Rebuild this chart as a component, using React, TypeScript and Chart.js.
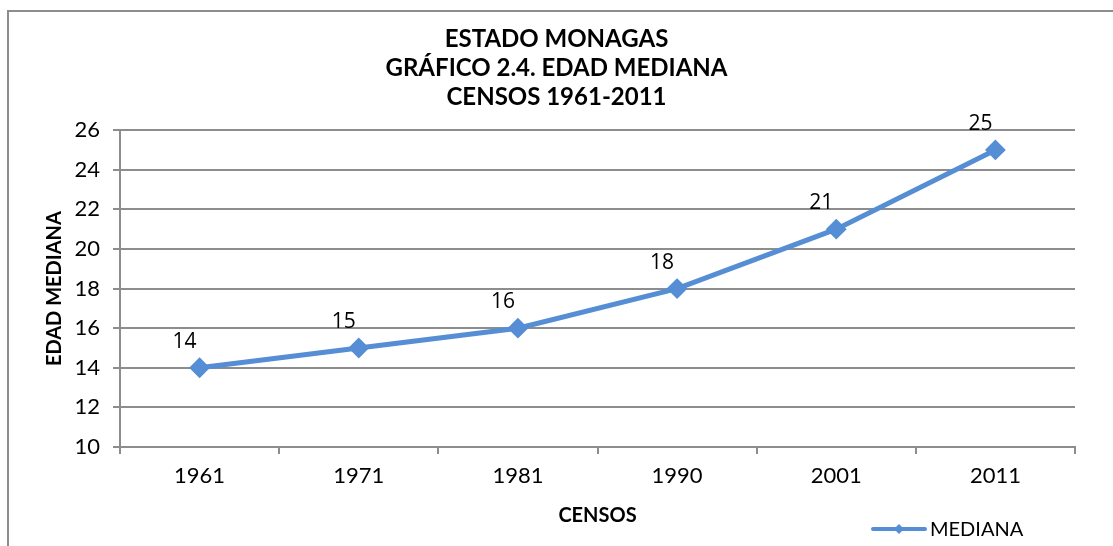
import React, { useEffect, useRef } from "react";
import { Chart, registerables } from "chart.js";

Chart.register(...registerables);

const categories = ["1961", "1971", "1981", "1990", "2001", "2011"];
const medianValues = [14, 15, 16, 18, 21, 25];
const seriesLabel = "MEDIANA";
const titleLines = ["ESTADO MONAGAS", "GRÁFICO 2.4. EDAD MEDIANA", "CENSOS 1961-2011"];
const yAxisTitle = "EDAD MEDIANA";
const xAxisTitle = "CENSOS";
const yMin = 10;
const yMax = 26;
const yStep = 2;

const LINE_COLOR = "#558ed5";
const GRID_COLOR = "#8d8d8d";

const framePlugin = {
  id: "frame",
  beforeDraw(chart: any) {
    const ctx = chart.ctx;
    ctx.save();
    ctx.strokeStyle = GRID_COLOR;
    ctx.lineWidth = 2;
    ctx.beginPath();
    ctx.moveTo(8, chart.height);
    ctx.lineTo(8, 11);
    ctx.lineTo(chart.width, 11);
    ctx.stroke();
    ctx.restore();
  },
};

const dataLabelPlugin = {
  id: "dataLabels",
  afterDatasetsDraw(chart: any) {
    const ctx = chart.ctx;
    ctx.save();
    ctx.font = "21px 'Open Sans'";
    ctx.fillStyle = "#000";
    ctx.textAlign = "center";
    ctx.textBaseline = "middle";
    chart.data.datasets.forEach((ds: any, i: number) => {
      const meta = chart.getDatasetMeta(i);
      meta.data.forEach((pt: any, j: number) => {
        ctx.fillText(String(ds.data[j]), pt.x - 15, pt.y - 26);
      });
    });
    ctx.restore();
  },
};

const legendPlugin = {
  id: "customLegend",
  afterDraw(chart: any) {
    const ctx = chart.ctx;
    const ds = chart.data.datasets[0];
    const y = 529;
    const x0 = 873;
    const x1 = 925;
    ctx.save();
    ctx.strokeStyle = ds.borderColor;
    ctx.lineWidth = 4;
    ctx.lineCap = "round";
    ctx.beginPath();
    ctx.moveTo(x0, y);
    ctx.lineTo(x1, y);
    ctx.stroke();
    const cx = (x0 + x1) / 2;
    const r = 5;
    ctx.fillStyle = ds.borderColor;
    ctx.beginPath();
    ctx.moveTo(cx - r, y);
    ctx.lineTo(cx, y - r);
    ctx.lineTo(cx + r, y);
    ctx.lineTo(cx, y + r);
    ctx.closePath();
    ctx.fill();
    ctx.fillStyle = "#000";
    ctx.font = "20px Lato";
    ctx.textAlign = "left";
    ctx.textBaseline = "middle";
    ctx.fillText(ds.label, x1 + 5, y + 1);
    ctx.restore();
  },
};

export default function App() {
  const canvasRef = useRef<HTMLCanvasElement | null>(null);

  useEffect(() => {
    if (!canvasRef.current) return;
    const chart = new Chart(canvasRef.current, {
      type: "line",
      data: {
        labels: categories,
        datasets: [
          {
            label: seriesLabel,
            data: medianValues,
            borderColor: LINE_COLOR,
            backgroundColor: LINE_COLOR,
            borderWidth: 5,
            pointStyle: "rectRot",
            pointRadius: 9,
            pointBorderWidth: 2,
            pointBackgroundColor: LINE_COLOR,
            pointBorderColor: LINE_COLOR,
            tension: 0,
            yAxisID: "y",
          },
        ],
      },
      options: {
        responsive: false,
        animation: false,
        layout: { padding: 0 },
        plugins: {
          legend: { display: false },
          tooltip: { enabled: false },
          title: {
            display: true,
            text: titleLines,
            color: "#000",
            font: { family: "Lato", size: 24, weight: "bold", lineHeight: 1.21 },
            padding: { top: 25, bottom: 18 },
          },
        },
        scales: {
          x: {
            type: "category",
            offset: true,
            grid: {
              display: true,
              drawOnChartArea: false,
              offset: true,
              tickLength: 7,
              color: GRID_COLOR,
              lineWidth: 2,
            },
            border: { display: true, color: GRID_COLOR, width: 2 },
            ticks: {
              color: "#000",
              font: { family: "Lato", size: 22 },
              padding: 9,
              maxRotation: 0,
            },
            title: {
              display: true,
              text: xAxisTitle,
              color: "#000",
              font: { family: "Lato", size: 20, weight: "bold", lineHeight: 1.2 },
              padding: { top: 0, bottom: 18 },
            },
            afterFit: (s: any) => {
              s.height = 99;
            },
          },
          y: {
            type: "linear",
            position: "left",
            min: yMin,
            max: yMax,
            ticks: {
              stepSize: yStep,
              color: "#000",
              font: { family: "Lato", size: 22 },
              padding: 13,
            },
            grid: {
              color: GRID_COLOR,
              lineWidth: 2,
              tickLength: 7,
            },
            border: { display: true, color: GRID_COLOR, width: 2 },
            title: {
              display: true,
              text: yAxisTitle,
              color: "#000",
              font: { family: "Lato", size: 20, weight: "bold", lineHeight: 1.2 },
              padding: { top: 43, bottom: 0 },
            },
            afterFit: (s: any) => {
              s.width = 120;
            },
          },
          yRight: {
            type: "linear",
            position: "right",
            display: true,
            grid: { display: false },
            ticks: { display: false },
            border: { display: false },
            afterFit: (s: any) => {
              s.width = 38;
            },
          },
        },
      },
      plugins: [framePlugin, dataLabelPlugin, legendPlugin],
    } as any);
    return () => chart.destroy();
  }, []);

  return (
    <div style={{ position: "fixed", left: 0, top: 0, width: 1113, height: 546, background: "#fff" }}>
      <canvas ref={canvasRef} width={1113} height={546} style={{ display: "block" }} />
    </div>
  );
}
